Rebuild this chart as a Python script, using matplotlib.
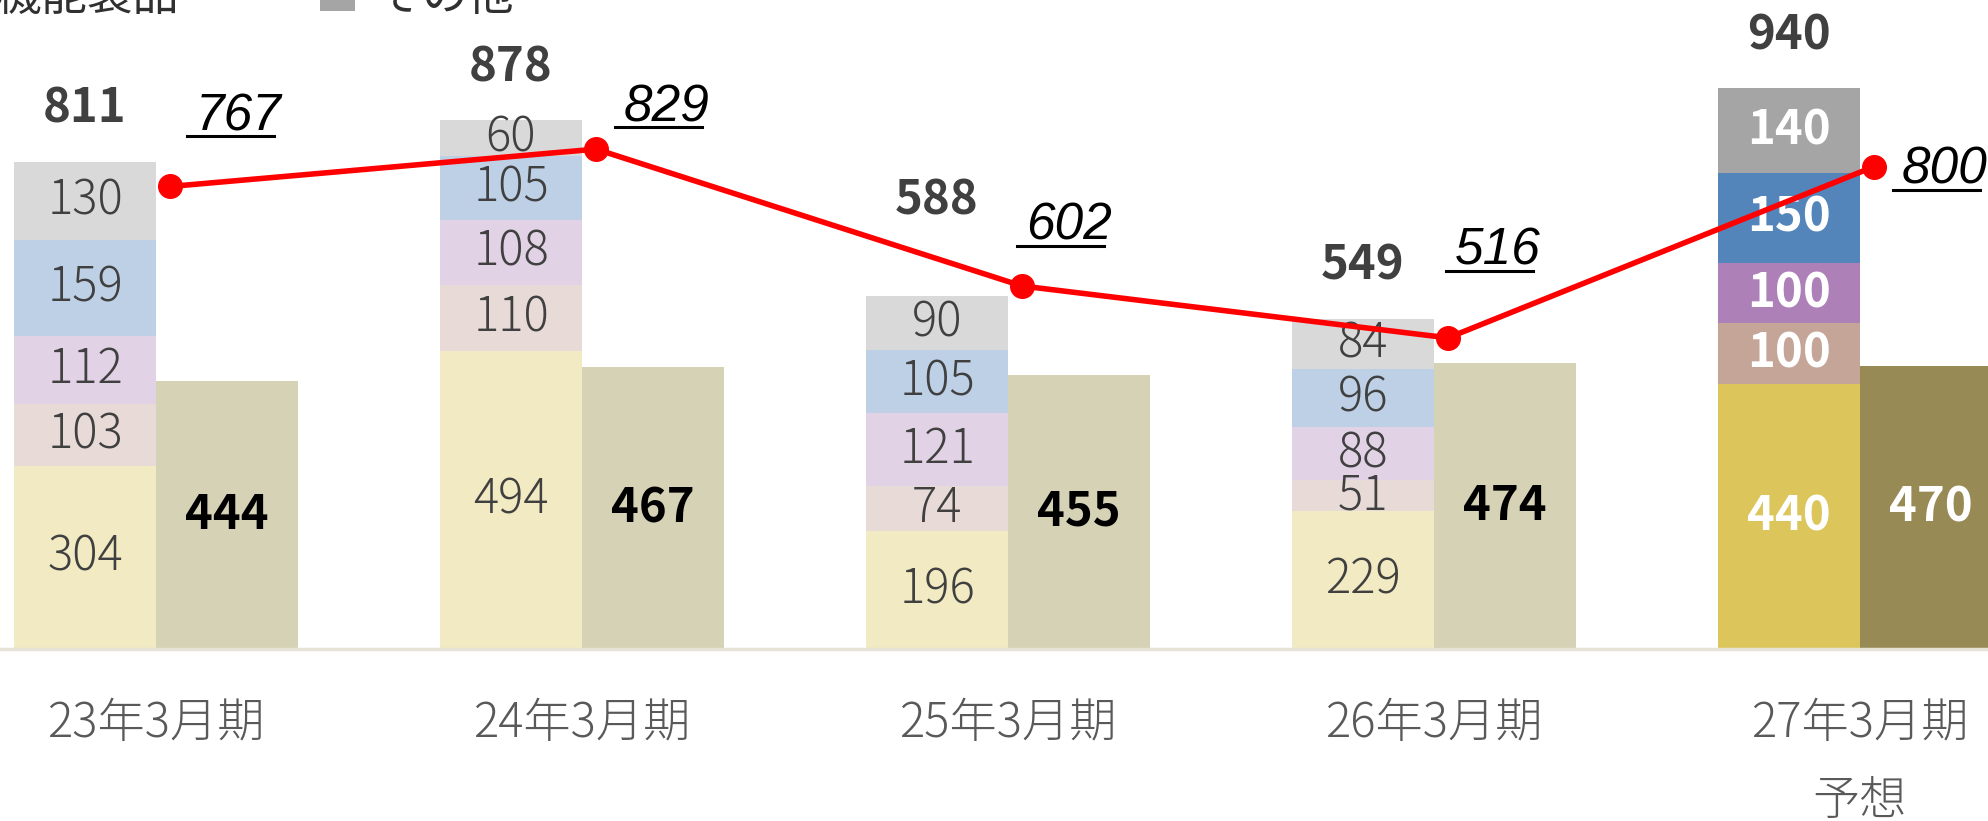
import matplotlib
matplotlib.use('Agg')
import numpy as np
import matplotlib.pyplot as plt
from matplotlib.patches import Rectangle
from matplotlib.lines import Line2D

plt.rcParams['font.family'] = ['Noto Sans CJK JP', 'DejaVu Sans']

# データ
categories = ['23年3月期', '24年3月期', '25年3月期', '26年3月期', '27年3月期\n予想']
seg_bottom = [304, 494, 196, 229, 440]
seg_2 = [103, 110, 74, 51, 100]
seg_3 = [112, 108, 121, 88, 100]
seg_4 = [159, 105, 105, 96, 150]
seg_other = [130, 60, 90, 84, 140]
totals = [811, 878, 588, 549, 940]
right_bar = [444, 467, 455, 474, 470]
line_vals = [767, 829, 602, 516, 800]
legend_labels = ['機能製品', 'その他']

segments = [seg_bottom, seg_2, seg_3, seg_4, seg_other]
pale_cols = ['#F1EAC2', '#E8DBD7', '#E2D2E5', '#BED0E5', '#D9D9D9']
dark_cols = ['#DCC55A', '#C4A597', '#AD80B7', '#5485BA', '#A5A5A5']
right_pale = '#D6D2B6'
right_dark = '#978A55'

W, H = 1988, 821
fig = plt.figure(figsize=(W / 100, H / 100), dpi=100)
base_px = 649
ppu = 0.603  # 1単位あたりのピクセル
ax = fig.add_axes([0, (H - base_px) / H, 1, base_px / H])
ax.set_xlim(-156 / 426, (W - 156) / 426)
ax.set_ylim(0, base_px / ppu)
ax.axis('off')

x = np.arange(len(categories))
w = 142 / 426
xl = x - w / 2
xr = x + w / 2
fs = 34

# 積み上げ棒
bottom = np.zeros(len(x))
for k, seg in enumerate(segments):
    cols = [pale_cols[k]] * 4 + [dark_cols[k]]
    ax.bar(xl, seg, w, bottom=bottom, color=cols, linewidth=0)
    for i in range(len(x)):
        if i == 4:
            ax.text(xl[i], bottom[i] + seg[i] / 2, str(seg[i]), ha='center', va='center',
                    fontsize=fs, color='white', fontweight='bold')
        else:
            ax.text(xl[i], bottom[i] + seg[i] / 2, str(seg[i]), ha='center', va='center',
                    fontsize=fs, color='#404040', fontweight='light')
    bottom += np.array(seg)

# 合計ラベル
tot_off = [53, 53, 95, 53, 53]
for i in range(len(x)):
    ax.annotate(str(totals[i]), xy=(xl[i], bottom[i]), xytext=(0, tot_off[i]),
                textcoords='offset pixels', ha='center', va='center',
                fontsize=fs, fontweight='bold', color='#404040')

# 右側の棒
rcols = [right_pale] * 4 + [right_dark]
ax.bar(xr, right_bar, w, color=rcols, linewidth=0)
for i in range(len(x)):
    ax.text(xr[i], right_bar[i] / 2, str(right_bar[i]), ha='center', va='center',
            fontsize=fs, fontweight='bold', color='white' if i == 4 else 'black')

# 折れ線
xm = x + 14 / 426
ax.plot(xm, line_vals, color='#FF0000', lw=4, marker='o', markersize=17, zorder=5)

lab_off = [(69, 74), (71, 46), (47, 64), (50, 91), (71, 1)]
line_texts = []
for i in range(len(x)):
    t = ax.annotate(str(line_vals[i]), xy=(xm[i], line_vals[i]),
                    xytext=(lab_off[i][0], lab_off[i][1] - 18), textcoords='offset pixels',
                    ha='center', va='baseline', fontsize=37, style='italic',
                    family='Liberation Sans', color='black')
    line_texts.append(t)

# 軸線
ax.axhline(0, color='#E6E3D6', lw=2.5, clip_on=False)

# カテゴリラベル
for i, c in enumerate(categories):
    ax.text(x[i], -50 / base_px, c, transform=ax.get_xaxis_transform(), ha='center',
            va='top', fontsize=fs, color='#595959', linespacing=1.75, fontweight='light')

# 見切れた凡例
fig.text(-4 / W, 1 - 10 / H, legend_labels[0], fontsize=33, color='#303030', va='baseline')
fig.add_artist(Rectangle((320 / W, 1 - 11 / H), 35 / W, 40 / H, transform=fig.transFigure,
                         color='#A5A5A5', linewidth=0))
fig.text(376 / W, 1 - 10 / H, legend_labels[1], fontsize=33, color='#303030', va='baseline')

# 下線
fig.canvas.draw()
inv = fig.transFigure.inverted()
for i, t in enumerate(line_texts):
    bb = t.get_window_extent()
    by = ax.transData.transform((xm[i], line_vals[i]))[1] + lab_off[i][1] - 18
    p0 = inv.transform((bb.x0 - 9, by - 6))
    p1 = inv.transform((bb.x1 - 8, by - 6))
    fig.add_artist(Line2D([p0[0], p1[0]], [p0[1], p1[1]], transform=fig.transFigure,
                          color='black', lw=2.2))

fig.savefig('out.png', dpi=100)
